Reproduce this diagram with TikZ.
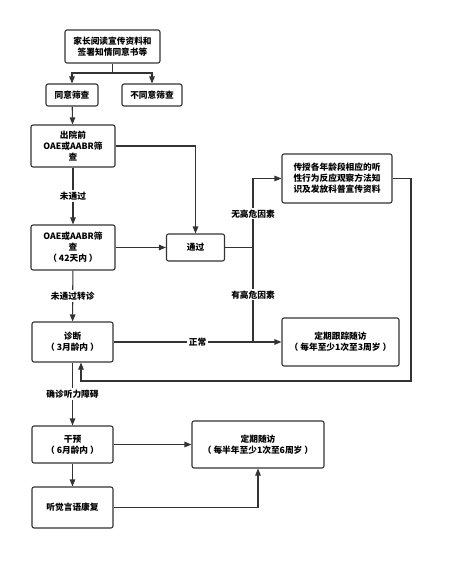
\documentclass[tikz,border=0pt]{standalone}
\usepackage{fontspec}
\setmainfont{Noto Sans CJK SC}
\usetikzlibrary{arrows.meta,positioning}
\definecolor{linegray}{RGB}{51,51,51}

\begin{document}
\begin{tikzpicture}[x=1pt,y=-1pt,
    font=\fontsize{8.7}{11}\selectfont\bfseries,
    flowbox/.style={draw=linegray,line width=1.1pt,rounded corners=2pt,
      align=center,inner sep=0pt,fill=white},
    flowline/.style={draw=linegray,line width=1.1pt},
    flowarrow/.style={flowline,-{Triangle[length=7pt,width=5.5pt]}},
    edgelabel/.style={fill=white,inner sep=1.5pt}]
  \useasboundingbox (0,0) rectangle (450,568);
  % Boxes
  \node[flowbox,minimum width=95pt,minimum height=33pt] (consent) at (112.5,46.5)
    {家长阅读宣传资料和\\签署知情同意书等};
  \node[flowbox,minimum width=52pt,minimum height=22pt] (agree) at (72,95) {同意筛查};
  \node[flowbox,minimum width=60pt,minimum height=22pt] (refuse) at (152,95) {不同意筛查};
  \node[flowbox,minimum width=84pt,minimum height=42pt] (prescreen) at (73,146)
    {出院前\\OAE或AABR筛\\查};
  \node[flowbox,minimum width=84pt,minimum height=45pt] (rescreen) at (73,247.5)
    {OAE或AABR筛\\查\\（ 42天内 ）};
  \node[flowbox,minimum width=58pt,minimum height=27pt] (pass) at (195.5,247.5) {通过};
  \node[flowbox,minimum width=110pt,minimum height=49pt] (educate) at (337,178.5)
    {传授各年龄段相应的听\\性行为反应观察方法知\\识及发放科普宣传资料};
  \node[flowbox,minimum width=81pt,minimum height=40pt] (diagnose) at (72.5,342)
    {诊断\\（ 3月龄内 ）};
  \node[flowbox,minimum width=117pt,minimum height=48pt] (tracking) at (340.5,342)
    {定期跟踪随访\\（ 每年至少1次至3周岁 ）};
  \node[flowbox,minimum width=81pt,minimum height=37pt] (intervene) at (72.5,444.5)
    {干预\\（ 6月龄内 ）};
  \node[flowbox,minimum width=132pt,minimum height=47pt] (followup) at (258,444.5)
    {定期随访\\（ 每半年至少1次至6周岁 ）};
  \node[flowbox,minimum width=81pt,minimum height=41pt] (rehab) at (72.5,507.5)
    {听觉言语康复};
  % Junctions
  \coordinate (split) at (112.5,73);
  \coordinate (riskfork) at (253,247.5);
  \coordinate (riskjoin) at (253,342);
  \coordinate (loopcorner) at (411,381);
  % Connectors
  \draw[flowline] (consent) -- (split);
  \draw[flowarrow] (split) -| (agree);
  \draw[flowarrow] (split) -| (refuse);
  \draw[flowarrow] (agree) -- (prescreen);
  \draw[flowarrow] (prescreen.east) -| (pass);
  \draw[flowarrow] (prescreen) -- node[edgelabel] {未通过} (rescreen);
  \draw[flowarrow] (rescreen) -- (pass);
  \draw[flowline] (pass) -- (riskfork);
  \draw[flowarrow] (riskfork) -- node[edgelabel,pos=0.49] {无高危因素} (riskfork |- educate.west) -- (educate.west);
  \draw[flowline] (riskfork) -- node[edgelabel] {有高危因素} (riskjoin);
  \draw[flowarrow] (diagnose) -- node[edgelabel,pos=0.5] {正常} (tracking);
  \draw[flowarrow] (educate.east) -| (loopcorner) -| ([xshift=8.5pt]diagnose.south);
  \draw[flowarrow] (rescreen) -- node[edgelabel] {未通过转诊} (diagnose);
  \draw[flowarrow] (diagnose) -- node[edgelabel] {确诊听力障碍} (intervene);
  \draw[flowarrow] (intervene) -- (followup);
  \draw[flowarrow] (intervene) -- (rehab);
  \draw[flowarrow] (rehab.east) -| (followup);
\end{tikzpicture}
\end{document}
